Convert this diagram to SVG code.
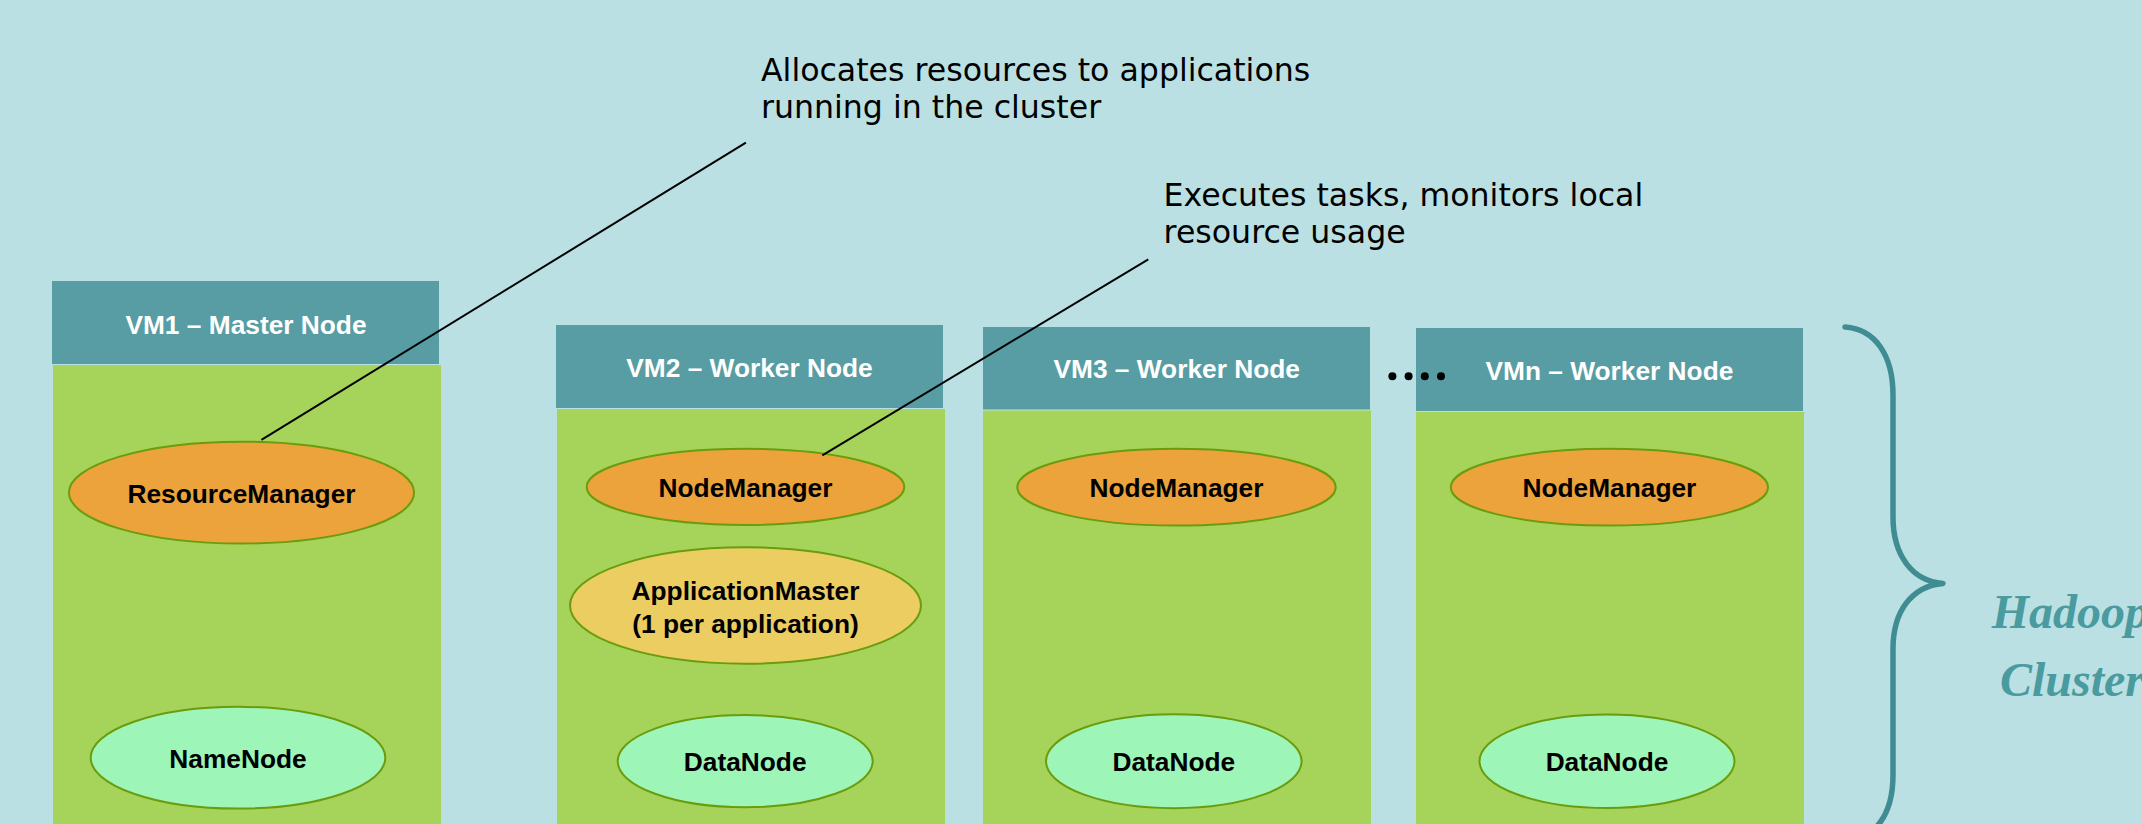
<svg xmlns="http://www.w3.org/2000/svg" width="2142" height="824" viewBox="0 0 2142 824">
<style>
.hdr{fill:#579DA3}
.body{fill:#A6D45B}
.ttl{font-family:"Liberation Sans",Arial,sans-serif;font-weight:bold;font-size:26.3px;fill:#FFFFFF;text-anchor:middle}
.lbl{font-family:"Liberation Sans",Arial,sans-serif;font-weight:bold;font-size:26.3px;fill:#000000;text-anchor:middle}
.rm{fill:#EDA33B;stroke:#6A9C0C;stroke-width:2}
.am{fill:#EBCD62;stroke:#6A9C0C;stroke-width:2}
.dn{fill:#9EF5B8;stroke:#6A9C0C;stroke-width:2}
.note{font-family:"DejaVu Sans",Verdana,sans-serif;font-size:31.6px;fill:#000000}
.conn{stroke:#000000;stroke-width:2;fill:none}
.cl{font-family:"Liberation Serif","Times New Roman",serif;font-weight:bold;font-style:italic;font-size:48px;fill:#4A9BA0}
</style>
<rect x="0" y="0" width="2142" height="824" fill="#BAE0E3"/>

<g id="vm1">
<rect class="body" x="53" y="365" width="388" height="470"/>
<rect class="hdr" x="52" y="281" width="387" height="83"/>
<text class="ttl" x="246" y="333.5">VM1 – Master Node</text>
</g>
<g id="vm2">
<rect class="body" x="557" y="409" width="388" height="420"/>
<rect class="hdr" x="556" y="325" width="387" height="83"/>
<text class="ttl" x="749.5" y="377">VM2 – Worker Node</text>
</g>
<g id="vm3">
<rect class="body" x="983" y="410.5" width="388" height="420"/>
<rect class="hdr" x="983" y="327" width="387" height="82.5"/>
<text class="ttl" x="1176.7" y="377.5">VM3 – Worker Node</text>
</g>
<g id="vmn">
<rect class="body" x="1416" y="412" width="388" height="420"/>
<rect class="hdr" x="1416" y="328" width="387" height="83"/>
<text class="ttl" x="1609.4" y="379.5">VMn – Worker Node</text>
</g>

<g id="resourcemanager">
<ellipse class="rm" cx="241.5" cy="492.6" rx="172.6" ry="50.9"/>
<text class="lbl" x="241.5" y="502.5">ResourceManager</text>
</g>
<g id="namenode">
<ellipse class="dn" cx="238" cy="757.7" rx="147.3" ry="50.9"/>
<text class="lbl" x="238" y="767.5">NameNode</text>
</g>
<g id="nodemanager2">
<ellipse class="rm" cx="745.5" cy="486.9" rx="158.8" ry="38.1"/>
<text class="lbl" x="745.5" y="497">NodeManager</text>
</g>
<g id="appmaster">
<ellipse class="am" cx="745.5" cy="605.5" rx="175.5" ry="58.2"/>
<text class="lbl" x="745.5" y="599.8">ApplicationMaster</text>
<text class="lbl" x="745.5" y="632.5">(1 per application)</text>
</g>
<g id="datanode2">
<ellipse class="dn" cx="745.2" cy="761.2" rx="127.5" ry="46.1"/>
<text class="lbl" x="745.2" y="771">DataNode</text>
</g>
<g id="nodemanager3">
<ellipse class="rm" cx="1176.5" cy="487.2" rx="159.2" ry="38.4"/>
<text class="lbl" x="1176.5" y="497.3">NodeManager</text>
</g>
<g id="datanode3">
<ellipse class="dn" cx="1173.8" cy="761.2" rx="127.8" ry="47"/>
<text class="lbl" x="1173.8" y="771">DataNode</text>
</g>
<g id="nodemanagern">
<ellipse class="rm" cx="1609.4" cy="487.2" rx="158.6" ry="38.4"/>
<text class="lbl" x="1609.4" y="497.3">NodeManager</text>
</g>
<g id="datanoden">
<ellipse class="dn" cx="1607" cy="761.2" rx="127.5" ry="46.8"/>
<text class="lbl" x="1607" y="771">DataNode</text>
</g>

<g id="ellipsis" fill="#000000">
<circle cx="1392.4" cy="376.2" r="4"/>
<circle cx="1408.6" cy="376.2" r="4"/>
<circle cx="1424.8" cy="376.2" r="4"/>
<circle cx="1441" cy="376.2" r="4"/>
</g>

<g id="note-rm">
<text class="note" x="761" y="80.7">Allocates resources to applications</text>
<text class="note" x="761" y="118.3">running in the cluster</text>
</g>
<g id="note-nm">
<text class="note" x="1163.6" y="205.5">Executes tasks, monitors local</text>
<text class="note" x="1163.6" y="243">resource usage</text>
</g>

<g id="connectors">
<line class="conn" x1="261.4" y1="439.9" x2="745.9" y2="142.7"/>
<line class="conn" x1="822.3" y1="455.4" x2="1148.3" y2="259.3"/>
</g>

<g id="cluster">
<path d="M1845 327 C1875 329 1893 355 1893 395 L1893 517 C1893 555 1912 581 1943 583.4 C1912 586 1893 611 1893 649 L1893 775 C1893 815 1875 839 1845 841" fill="none" stroke="#3F8C92" stroke-width="5.5" stroke-linecap="round" stroke-linejoin="round"/>
<text class="cl" x="1991.7" y="627.5">Hadoop</text>
<text class="cl" x="2000" y="696">Cluster</text>
</g>
</svg>
